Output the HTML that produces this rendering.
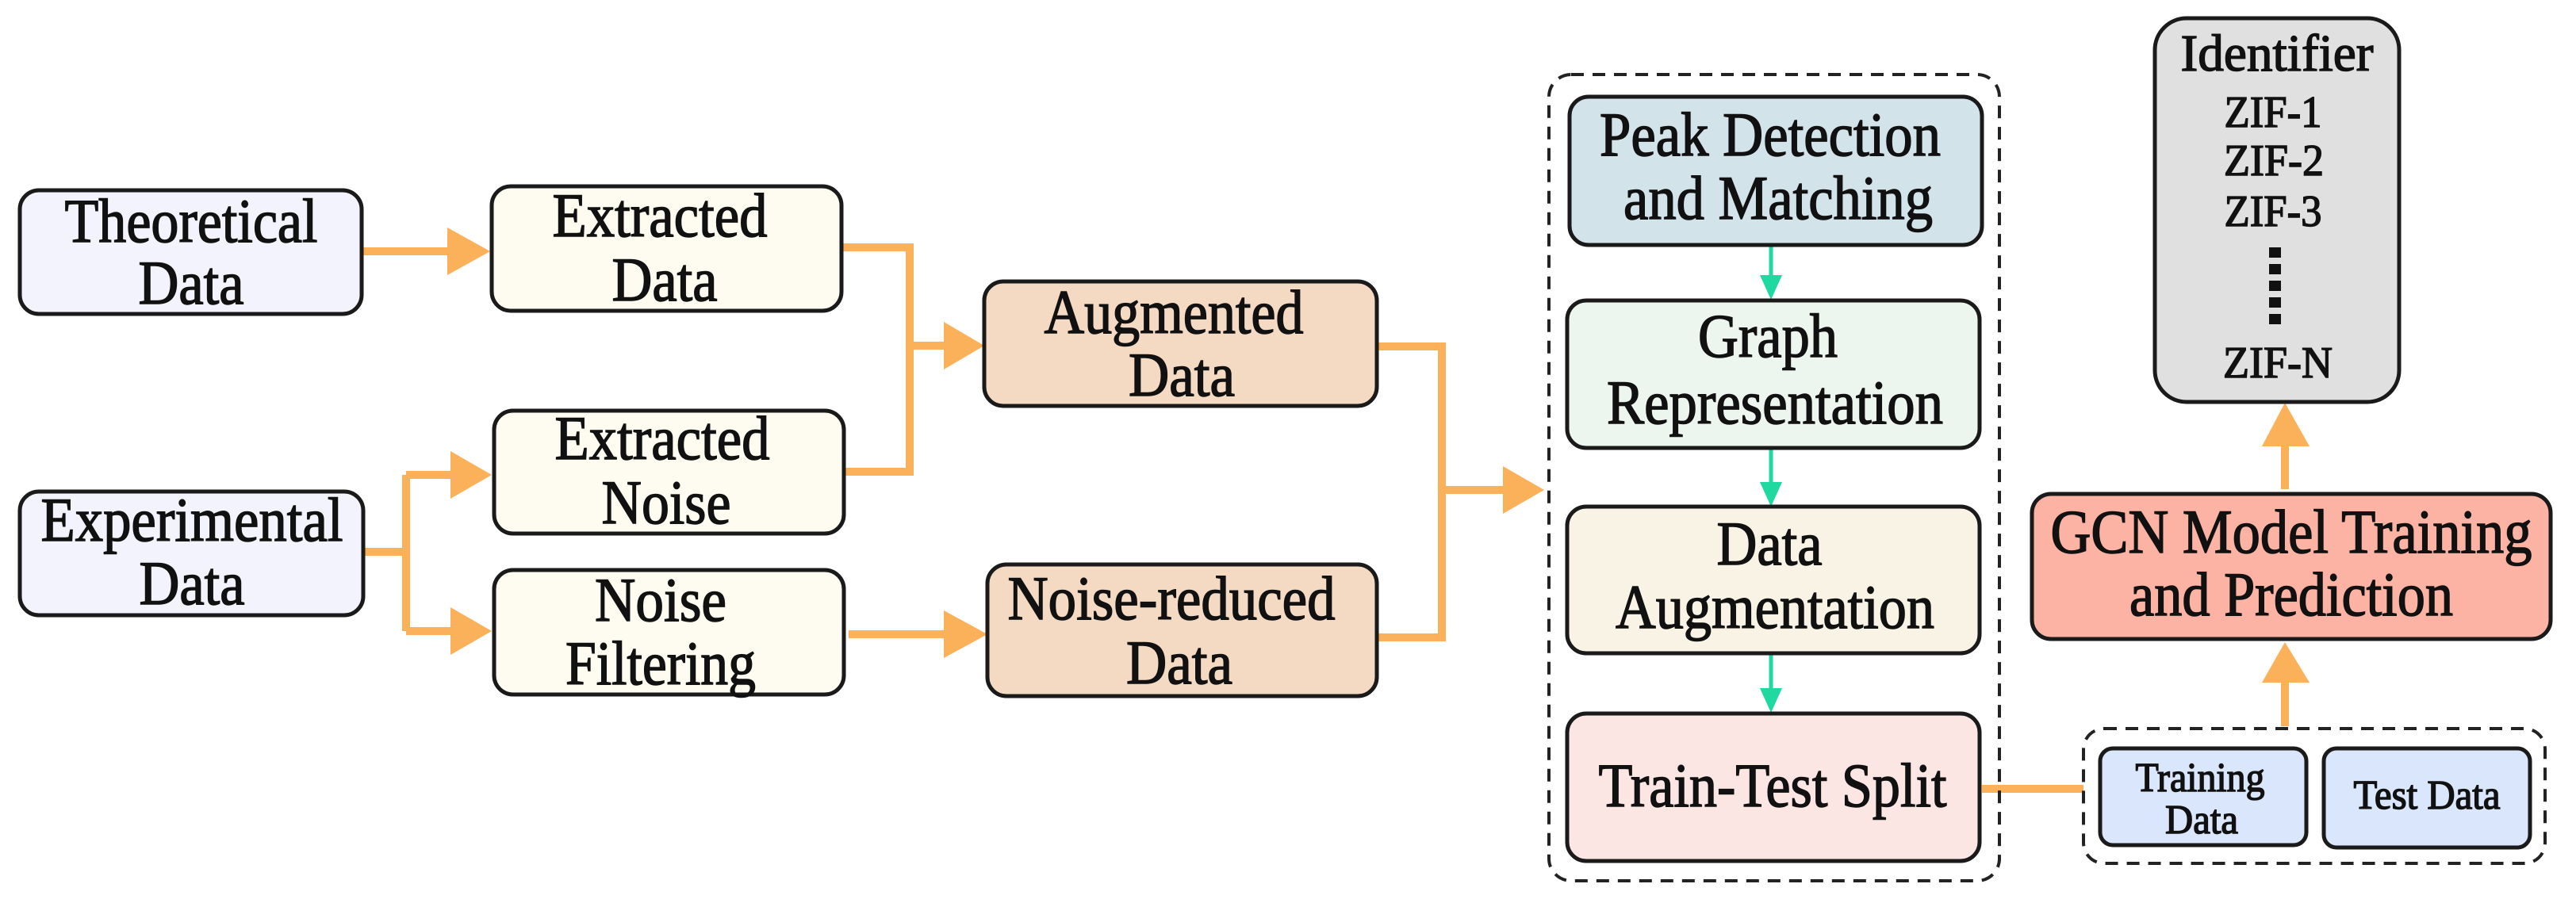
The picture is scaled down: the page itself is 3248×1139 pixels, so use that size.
<!DOCTYPE html>
<html><head><meta charset="utf-8"><style>
html,body{margin:0;padding:0;background:#fff;}
svg{display:block;}
svg text{font-family:"Liberation Serif","Times New Roman","DejaVu Serif",serif !important;fill:#111;text-anchor:middle;}
</style></head><body>
<svg width="3248" height="1139" viewBox="0 0 3248 1139" xmlns="http://www.w3.org/2000/svg">
<g fill="none" stroke="#fbb05a" stroke-width="10">
<path d="M458 317H566"/>
<path d="M1061 312H1147V595H1064"/>
<path d="M1147 436H1192"/>
<path d="M458 696H512M512 599V796M512 599H570M512 796H570"/>
<path d="M1070 800H1192"/>
<path d="M1736 437H1818V804H1736M1818 618H1897"/>
<path d="M2499 995H2627"/>
<path d="M2881 617V560M2881 916V858"/>
</g>
<g fill="#fbb05a">
<path d="M564 287L618 317L564 347Z"/>
<path d="M568 569L620 599L568 629Z"/>
<path d="M568 766L620 796L568 826Z"/>
<path d="M1190 406L1241 436L1190 466Z"/>
<path d="M1190 770L1245 800L1190 830Z"/>
<path d="M1895 588L1947 618L1895 648Z"/>
<path d="M2852 563L2881 508L2912 563Z"/>
<path d="M2852 861L2881 810L2912 861Z"/>
</g>
<g stroke="#1fd9a0" stroke-width="5" fill="#1fd9a0">
<path d="M2233 309V350M2233 566V610M2233 825V870" fill="none"/>
<path d="M2219 347L2233 378L2247 347Z" stroke="none"/>
<path d="M2219 608L2233 639L2247 608Z" stroke="none"/>
<path d="M2219 868L2233 899L2247 868Z" stroke="none"/>
</g>
<g fill="none" stroke="#222" stroke-width="4" stroke-dasharray="16 11">
<rect x="1953" y="94" width="568" height="1017" rx="28"/>
<rect x="2627" y="919" width="582" height="170" rx="26"/>
</g>
<g stroke="#1a1a1a" stroke-width="5">
<rect x="25" y="240" width="431" height="156" rx="24" fill="#f3f3fd"/>
<rect x="25" y="620" width="433" height="156" rx="24" fill="#f3f3fd"/>
<rect x="620" y="235" width="441" height="157" rx="24" fill="#fefcf0"/>
<rect x="623" y="518" width="441" height="155" rx="24" fill="#fefcf0"/>
<rect x="623" y="719" width="441" height="157" rx="24" fill="#fefcf0"/>
<rect x="1241" y="355" width="495" height="157" rx="24" fill="#f4d9c3"/>
<rect x="1245" y="712" width="491" height="166" rx="24" fill="#f4d9c3"/>
<rect x="1979" y="122" width="520" height="187" rx="24" fill="#d3e3ea"/>
<rect x="1976" y="379" width="520" height="186" rx="24" fill="#edf5ef"/>
<rect x="1976" y="639" width="520" height="185" rx="24" fill="#f8f3e4"/>
<rect x="1976" y="900" width="520" height="186" rx="24" fill="#fbe6e3"/>
<rect x="2717" y="23" width="308" height="484" rx="40" fill="#e0e0e0"/>
<rect x="2562" y="623" width="654" height="183" rx="24" fill="#fcb3a4"/>
<rect x="2648" y="944" width="260" height="122" rx="16" fill="#dae6fb"/>
<rect x="2930" y="944" width="260" height="125" rx="16" fill="#dae6fb"/>
</g>
<g fill="#111">
<rect x="2861" y="312" width="15" height="13"/>
<rect x="2861" y="333" width="15" height="13"/>
<rect x="2861" y="354" width="15" height="13"/>
<rect x="2861" y="375" width="15" height="13"/>
<rect x="2861" y="396" width="15" height="13"/>
</g>
<g font-family="Liberation Serif, Times New Roman, serif" stroke="#111" stroke-width="1.5">
<g font-size="78">
<text x="241" y="305" textLength="319" lengthAdjust="spacingAndGlyphs">Theoretical</text>
<text x="241" y="383" textLength="133" lengthAdjust="spacingAndGlyphs">Data</text>
<text x="242" y="682" textLength="381" lengthAdjust="spacingAndGlyphs">Experimental</text>
<text x="242" y="762" textLength="133" lengthAdjust="spacingAndGlyphs">Data</text>
<text x="832" y="298" textLength="271" lengthAdjust="spacingAndGlyphs">Extracted</text>
<text x="838" y="379" textLength="133" lengthAdjust="spacingAndGlyphs">Data</text>
<text x="835" y="579" textLength="271" lengthAdjust="spacingAndGlyphs">Extracted</text>
<text x="840" y="660" textLength="163" lengthAdjust="spacingAndGlyphs">Noise</text>
<text x="833" y="783" textLength="166" lengthAdjust="spacingAndGlyphs">Noise</text>
<text x="833" y="863" textLength="240" lengthAdjust="spacingAndGlyphs">Filtering</text>
<text x="1480" y="420" textLength="327" lengthAdjust="spacingAndGlyphs">Augmented</text>
<text x="1490" y="499" textLength="134" lengthAdjust="spacingAndGlyphs">Data</text>
<text x="1477" y="781" textLength="413" lengthAdjust="spacingAndGlyphs">Noise-reduced</text>
<text x="1487" y="862" textLength="134" lengthAdjust="spacingAndGlyphs">Data</text>
<text x="2232" y="196" textLength="430" lengthAdjust="spacingAndGlyphs">Peak Detection</text>
<text x="2242" y="276" textLength="390" lengthAdjust="spacingAndGlyphs">and Matching</text>
<text x="2229" y="450" textLength="176" lengthAdjust="spacingAndGlyphs">Graph</text>
<text x="2238" y="534" textLength="424" lengthAdjust="spacingAndGlyphs">Representation</text>
<text x="2231" y="712" textLength="133" lengthAdjust="spacingAndGlyphs">Data</text>
<text x="2238" y="792" textLength="402" lengthAdjust="spacingAndGlyphs">Augmentation</text>
<text x="2235" y="1017" textLength="439" lengthAdjust="spacingAndGlyphs">Train-Test Split</text>
<text x="2889" y="697" textLength="607" lengthAdjust="spacingAndGlyphs">GCN Model Training</text>
<text x="2889" y="776" textLength="408" lengthAdjust="spacingAndGlyphs">and Prediction</text>
</g>
<text x="2871" y="89" font-size="66" textLength="243" lengthAdjust="spacingAndGlyphs">Identifier</text>
<text x="2866" y="160" font-size="56" textLength="123" lengthAdjust="spacingAndGlyphs">ZIF-1</text>
<text x="2867" y="221" font-size="56" textLength="126" lengthAdjust="spacingAndGlyphs">ZIF-2</text>
<text x="2866" y="285" font-size="56" textLength="123" lengthAdjust="spacingAndGlyphs">ZIF-3</text>
<text x="2872" y="476" font-size="56" textLength="138" lengthAdjust="spacingAndGlyphs">ZIF-N</text>
<text x="2774" y="998" font-size="52" textLength="163" lengthAdjust="spacingAndGlyphs">Training</text>
<text x="2776" y="1051" font-size="52" textLength="92" lengthAdjust="spacingAndGlyphs">Data</text>
<text x="3060" y="1020" font-size="52" textLength="185" lengthAdjust="spacingAndGlyphs">Test Data</text>
</g>
</svg>
</body></html>
